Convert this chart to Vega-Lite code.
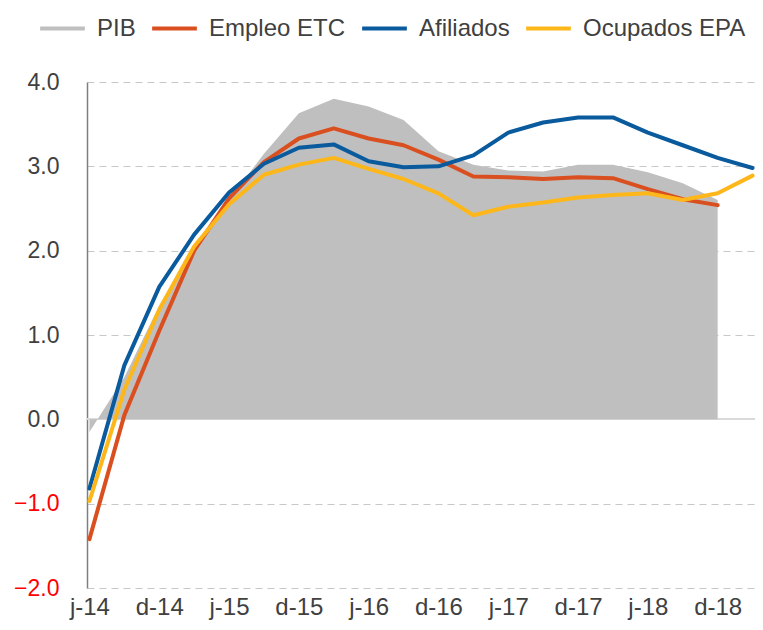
{
  "$schema": "https://vega.github.io/schema/vega-lite/v6.json",
  "width": 668,
  "height": 506,
  "autosize": "none",
  "padding": {"left": 87, "top": 82, "right": 8, "bottom": 42},
  "background": "white",
  "config": {"view": {"stroke": null}, "font": "Liberation Sans"},
  "datasets": {
    "rows": [
      {"period": "j-14", "series": "PIB", "value": -0.15},
      {"period": "s-14", "series": "PIB", "value": 0.5},
      {"period": "d-14", "series": "PIB", "value": 1.35},
      {"period": "m-15", "series": "PIB", "value": 2.05},
      {"period": "j-15", "series": "PIB", "value": 2.6},
      {"period": "s-15", "series": "PIB", "value": 3.15},
      {"period": "d-15", "series": "PIB", "value": 3.63},
      {"period": "m-16", "series": "PIB", "value": 3.8},
      {"period": "j-16", "series": "PIB", "value": 3.71},
      {"period": "s-16", "series": "PIB", "value": 3.55},
      {"period": "d-16", "series": "PIB", "value": 3.18},
      {"period": "m-17", "series": "PIB", "value": 3.02},
      {"period": "j-17", "series": "PIB", "value": 2.95},
      {"period": "s-17", "series": "PIB", "value": 2.94},
      {"period": "d-17", "series": "PIB", "value": 3.02},
      {"period": "m-18", "series": "PIB", "value": 3.02},
      {"period": "j-18", "series": "PIB", "value": 2.93},
      {"period": "s-18", "series": "PIB", "value": 2.8},
      {"period": "d-18", "series": "PIB", "value": 2.6},

      {"period": "j-14", "series": "Empleo ETC", "value": -1.42},
      {"period": "s-14", "series": "Empleo ETC", "value": 0.05},
      {"period": "d-14", "series": "Empleo ETC", "value": 1.05},
      {"period": "m-15", "series": "Empleo ETC", "value": 2.0},
      {"period": "j-15", "series": "Empleo ETC", "value": 2.62},
      {"period": "s-15", "series": "Empleo ETC", "value": 3.05},
      {"period": "d-15", "series": "Empleo ETC", "value": 3.33},
      {"period": "m-16", "series": "Empleo ETC", "value": 3.45},
      {"period": "j-16", "series": "Empleo ETC", "value": 3.33},
      {"period": "s-16", "series": "Empleo ETC", "value": 3.25},
      {"period": "d-16", "series": "Empleo ETC", "value": 3.08},
      {"period": "m-17", "series": "Empleo ETC", "value": 2.88},
      {"period": "j-17", "series": "Empleo ETC", "value": 2.87},
      {"period": "s-17", "series": "Empleo ETC", "value": 2.85},
      {"period": "d-17", "series": "Empleo ETC", "value": 2.87},
      {"period": "m-18", "series": "Empleo ETC", "value": 2.86},
      {"period": "j-18", "series": "Empleo ETC", "value": 2.73},
      {"period": "s-18", "series": "Empleo ETC", "value": 2.61},
      {"period": "d-18", "series": "Empleo ETC", "value": 2.54},

      {"period": "j-14", "series": "Afiliados", "value": -0.82},
      {"period": "s-14", "series": "Afiliados", "value": 0.64},
      {"period": "d-14", "series": "Afiliados", "value": 1.57},
      {"period": "m-15", "series": "Afiliados", "value": 2.19},
      {"period": "j-15", "series": "Afiliados", "value": 2.69},
      {"period": "s-15", "series": "Afiliados", "value": 3.03},
      {"period": "d-15", "series": "Afiliados", "value": 3.22},
      {"period": "m-16", "series": "Afiliados", "value": 3.26},
      {"period": "j-16", "series": "Afiliados", "value": 3.06},
      {"period": "s-16", "series": "Afiliados", "value": 2.99},
      {"period": "d-16", "series": "Afiliados", "value": 3.0},
      {"period": "m-17", "series": "Afiliados", "value": 3.13},
      {"period": "j-17", "series": "Afiliados", "value": 3.4},
      {"period": "s-17", "series": "Afiliados", "value": 3.52},
      {"period": "d-17", "series": "Afiliados", "value": 3.58},
      {"period": "m-18", "series": "Afiliados", "value": 3.58},
      {"period": "j-18", "series": "Afiliados", "value": 3.4},
      {"period": "s-18", "series": "Afiliados", "value": 3.25},
      {"period": "d-18", "series": "Afiliados", "value": 3.1},
      {"period": "m-19", "series": "Afiliados", "value": 2.98},

      {"period": "j-14", "series": "Ocupados EPA", "value": -0.97},
      {"period": "s-14", "series": "Ocupados EPA", "value": 0.35},
      {"period": "d-14", "series": "Ocupados EPA", "value": 1.3},
      {"period": "m-15", "series": "Ocupados EPA", "value": 2.05},
      {"period": "j-15", "series": "Ocupados EPA", "value": 2.55},
      {"period": "s-15", "series": "Ocupados EPA", "value": 2.9},
      {"period": "d-15", "series": "Ocupados EPA", "value": 3.02},
      {"period": "m-16", "series": "Ocupados EPA", "value": 3.1},
      {"period": "j-16", "series": "Ocupados EPA", "value": 2.97},
      {"period": "s-16", "series": "Ocupados EPA", "value": 2.85},
      {"period": "d-16", "series": "Ocupados EPA", "value": 2.68},
      {"period": "m-17", "series": "Ocupados EPA", "value": 2.42},
      {"period": "j-17", "series": "Ocupados EPA", "value": 2.52},
      {"period": "s-17", "series": "Ocupados EPA", "value": 2.57},
      {"period": "d-17", "series": "Ocupados EPA", "value": 2.63},
      {"period": "m-18", "series": "Ocupados EPA", "value": 2.66},
      {"period": "j-18", "series": "Ocupados EPA", "value": 2.68},
      {"period": "s-18", "series": "Ocupados EPA", "value": 2.6},
      {"period": "d-18", "series": "Ocupados EPA", "value": 2.68},
      {"period": "m-19", "series": "Ocupados EPA", "value": 2.89}
    ]
  },
  "data": {"name": "rows"},
  "encoding": {
    "x": {
      "field": "period",
      "type": "ordinal",
      "sort": null,
      "scale": {
        "type": "point",
        "padding": 0.07,
        "domain": ["j-14","s-14","d-14","m-15","j-15","s-15","d-15","m-16","j-16","s-16","d-16","m-17","j-17","s-17","d-17","m-18","j-18","s-18","d-18","m-19"]
      },
      "axis": {
        "values": ["j-14","d-14","j-15","d-15","j-16","d-16","j-17","d-17","j-18","d-18"],
        "title": null,
        "grid": false,
        "domain": false,
        "ticks": false,
        "labelAngle": 0,
        "labelFontSize": 24,
        "labelColor": "#404040",
        "labelPadding": 7
      }
    },
    "y": {
      "field": "value",
      "type": "quantitative",
      "scale": {"domain": [-2, 4], "nice": false, "zero": false},
      "axis": {
        "values": [-2, -1, 0, 1, 2, 3, 4],
        "format": ".1f",
        "title": null,
        "ticks": false,
        "zindex": 0,
        "labelFontSize": 23,
        "labelPadding": 28,
        "labelColor": {"condition": {"test": "datum.value < 0", "value": "#FF0000"}, "value": "#404040"},
        "domainColor": "#7F7F7F",
        "domainWidth": 1.5,
        "gridColor": "#C8C8C8",
        "gridDash": [7, 5],
        "gridWidth": 1.2,
        "gridOpacity": {"condition": {"test": "datum.value === 0", "value": 0}, "value": 1}
      }
    }
  },
  "layer": [
    {
      "mark": {"type": "rule", "color": "#D9D9D9", "strokeWidth": 1.5},
      "encoding": {"x": null, "y": {"datum": 0, "type": "quantitative"}}
    },
    {
      "transform": [{"filter": "datum.series === 'PIB'"}],
      "mark": {"type": "area", "opacity": 1},
      "encoding": {
        "color": {
          "field": "series",
          "type": "nominal",
          "scale": {
            "domain": ["PIB", "Empleo ETC", "Afiliados", "Ocupados EPA"],
            "range": ["#BFBFBF", "#DA4F1F", "#0A5A9E", "#FDB71A"]
          },
          "legend": {
            "title": null,
            "orient": "none",
            "legendX": -49,
            "legendY": -78,
            "direction": "horizontal",
            "columns": 4,
            "gridAlign": "none",
            "symbolType": "stroke",
            "symbolSize": 2000,
            "symbolStrokeWidth": 4,
            "labelFontSize": 24,
            "labelLimit": 400,
            "labelColor": "#404040",
            "labelOffset": 10,
            "columnPadding": 8,
            "encode": {
              "symbols": {
                "update": {
                  "fill": {"value": "transparent"},
                  "stroke": {"signal": "scale('color', datum.value)"},
                  "strokeWidth": {"signal": "datum.value === 'PIB' ? 11 : 4"},
                  "strokeCap": {"value": "butt"}
                }
              }
            }
          }
        }
      }
    },
    {
      "transform": [{"filter": "datum.series !== 'PIB'"}],
      "mark": {"type": "line", "strokeWidth": 4, "strokeJoin": "round", "strokeCap": "round"},
      "encoding": {
        "color": {"field": "series", "type": "nominal"}
      }
    }
  ]
}
